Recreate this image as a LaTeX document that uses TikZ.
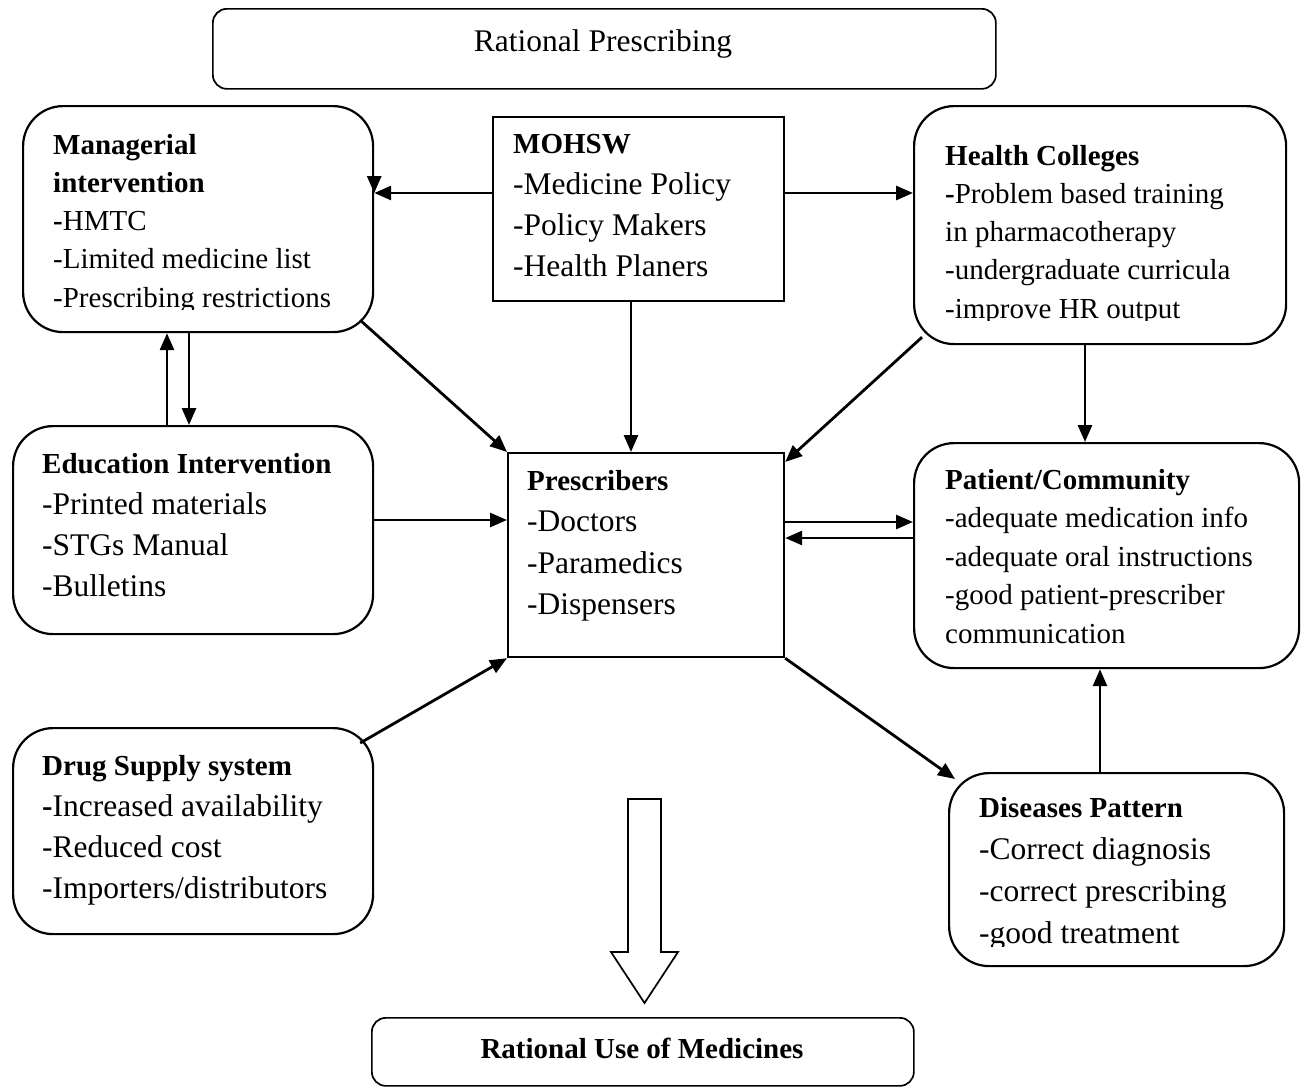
\documentclass[tikz,border=0pt]{standalone}
\usepackage{fontspec}
\setmainfont{Liberation Serif}
\usetikzlibrary{arrows.meta,calc}
\newcommand\fa{\fontsize{29}{35}\selectfont}
\newcommand\fb{\fontsize{31.5}{38}\selectfont}
\begin{document}
\begin{tikzpicture}[x=1pt,y=-1pt,
  box/.style={draw, line width=2.2pt, rounded corners=40pt, anchor=north west, inner sep=0pt},
  sqbox/.style={draw, line width=2.2pt, anchor=north west, inner sep=0pt},
  ln/.style={anchor=base west, inner sep=0pt},
  arr/.style={line width=2.8pt, -{Triangle[length=17pt,width=14pt]}}]
\useasboundingbox (0,0) rectangle (1306,1087);

% boxes
\node[box, rounded corners=14pt, line width=1.7pt, minimum width=783pt, minimum height=80pt] (top) at (212,8) {};
\node[box, minimum width=350pt, minimum height=226pt] (mgr) at (22,105) {};
\node[sqbox, minimum width=291pt, minimum height=184pt] (mohsw) at (492,116) {};
\node[box, minimum width=372pt, minimum height=238pt] (hc) at (913,105) {};
\node[box, minimum width=360pt, minimum height=208pt] (edu) at (12,425) {};
\node[sqbox, minimum width=276pt, minimum height=204pt] (pres) at (507,452) {};
\node[box, minimum width=385pt, minimum height=225pt] (pat) at (913,442) {};
\node[box, minimum width=360pt, minimum height=206pt] (drug) at (12,727) {};
\node[box, minimum width=335pt, minimum height=193pt] (dis) at (948,772) {};
\node[box, rounded corners=14pt, line width=1.7pt, minimum width=542pt, minimum height=68pt] (bot) at (371,1017) {};

% texts
\node[anchor=base, inner sep=0pt, font=\fb] (toptxt) at (603,51) {Rational Prescribing};
\node[anchor=base, inner sep=0pt, font=\fa\bfseries] (bottxt) at (642,1058) {Rational Use of Medicines};

\begin{scope}
\clip (0,0) rectangle (1306,309);
\foreach \t [count=\i from 0] in {{\fa\bfseries Managerial},{\fa\bfseries intervention},{\fa{\bfseries -}HMTC},{\fa -Limited medicine list},{\fa -Prescribing restrictions}}
  \node[ln] (mgrt\i) at (53,{154+38.3*\i}) {\t};
\end{scope}

\node[ln] (mot0) at (513,153) {\fa\bfseries MOHSW};
\foreach \t [count=\i from 1] in {{\fb -Medicine Policy},{\fb -Policy Makers},{\fb -Health Planers}}
  \node[ln] (mot\i) at (513,{153+41.3*\i}) {\t};

\begin{scope}
\clip (0,0) rectangle (1306,320.5);
\foreach \t [count=\i from 0] in {{\fa\bfseries Health Colleges},{\fa{\bfseries -}Problem based training},{\fa in pharmacotherapy},{\fa -undergraduate curricula},{\fa -improve HR output}}
  \node[ln] (hct\i) at (945,{165+38.3*\i}) {\t};
\end{scope}

\node[ln] (edt0) at (42,473) {\fa\bfseries Education Intervention};
\foreach \t [count=\i from 1] in {{\fb -Printed materials},{\fb -STGs Manual},{\fb -Bulletins}}
  \node[ln] (edt\i) at (42,{473+41.3*\i}) {\t};

\node[ln] (prt0) at (527,490) {\fa\bfseries Prescribers};
\foreach \t [count=\i from 1] in {{\fb -Doctors},{\fb -Paramedics},{\fb -Dispensers}}
  \node[ln] (prt\i) at (527,{490+41.5*\i}) {\t};

\foreach \t [count=\i from 0] in {{\fa\bfseries Patient/Community},{\fa -adequate medication info},{\fa -adequate oral instructions},{\fa -good patient-prescriber},{\fa communication}}
  \node[ln] (pat\i) at (945,{489+38.5*\i}) {\t};

\node[ln] (drt0) at (42,775) {\fa\bfseries Drug Supply system};
\foreach \t [count=\i from 1] in {{\fb{\bfseries -}Increased availability},{\fb -Reduced cost},{\fb -Importers/distributors}}
  \node[ln] (drt\i) at (42,{775+41.3*\i}) {\t};

\begin{scope}
\clip (0,0) rectangle (1306,946);
\node[ln] (dit0) at (979,817) {\fa\bfseries Diseases Pattern};
\foreach \t [count=\i from 1] in {{\fb -Correct diagnosis},{\fb -correct prescribing},{\fb -good treatment}}
  \node[ln] (dit\i) at (979,{817+42*\i}) {\t};
\end{scope}

% connectors
\draw[arr] (mohsw.west |- 0,193) -- (mgr.east |- 0,193);
\draw[arr] ($(mgr.east |- 0,193)+(0,-17)$) coordinate (mgrdn) -- (mgr.east |- 0,193);
\draw[arr] (mohsw.east |- 0,193) -- (hc.west |- 0,193);
\draw[arr] (mohsw.south -| 631,0) -- (pres.north -| 631,0);
\draw[arr] ($(mgr.south east)+(-14,-13)$) -- (pres.north west);
\draw[arr] ($(hc.south west)+(9,-8)$) -- ($(pres.north east)+(0,10)$);
\draw[arr] (hc.south -| 1085,0) -- (pat.north -| 1085,0);
\draw[arr] (edu.north -| 167,0) -- (mgr.south -| 167,0);
\draw[arr] (mgr.south -| 189,0) -- (edu.north -| 189,0);
\draw[arr] (edu.east |- 0,520) -- (pres.west |- 0,520);
\draw[arr] (pres.east |- 0,522) -- (pat.west |- 0,522);
\draw[arr] (pat.west |- 0,538) -- (pres.east |- 0,538);
\draw[arr] ($(drug.north east)+(-14,16)$) -- (pres.south west);
\draw[arr] (pres.south east) -- (955,779);
\draw[arr] (dis.north -| 1100,0) -- (pat.south -| 1100,0);

% hollow arrow
\draw[line width=1.7pt, line join=miter] (628,799) -- (661,799) -- (661,952) -- (678,952) -- (644.5,1003) -- (611,952) -- (628,952) -- cycle;
\end{tikzpicture}
\end{document}
